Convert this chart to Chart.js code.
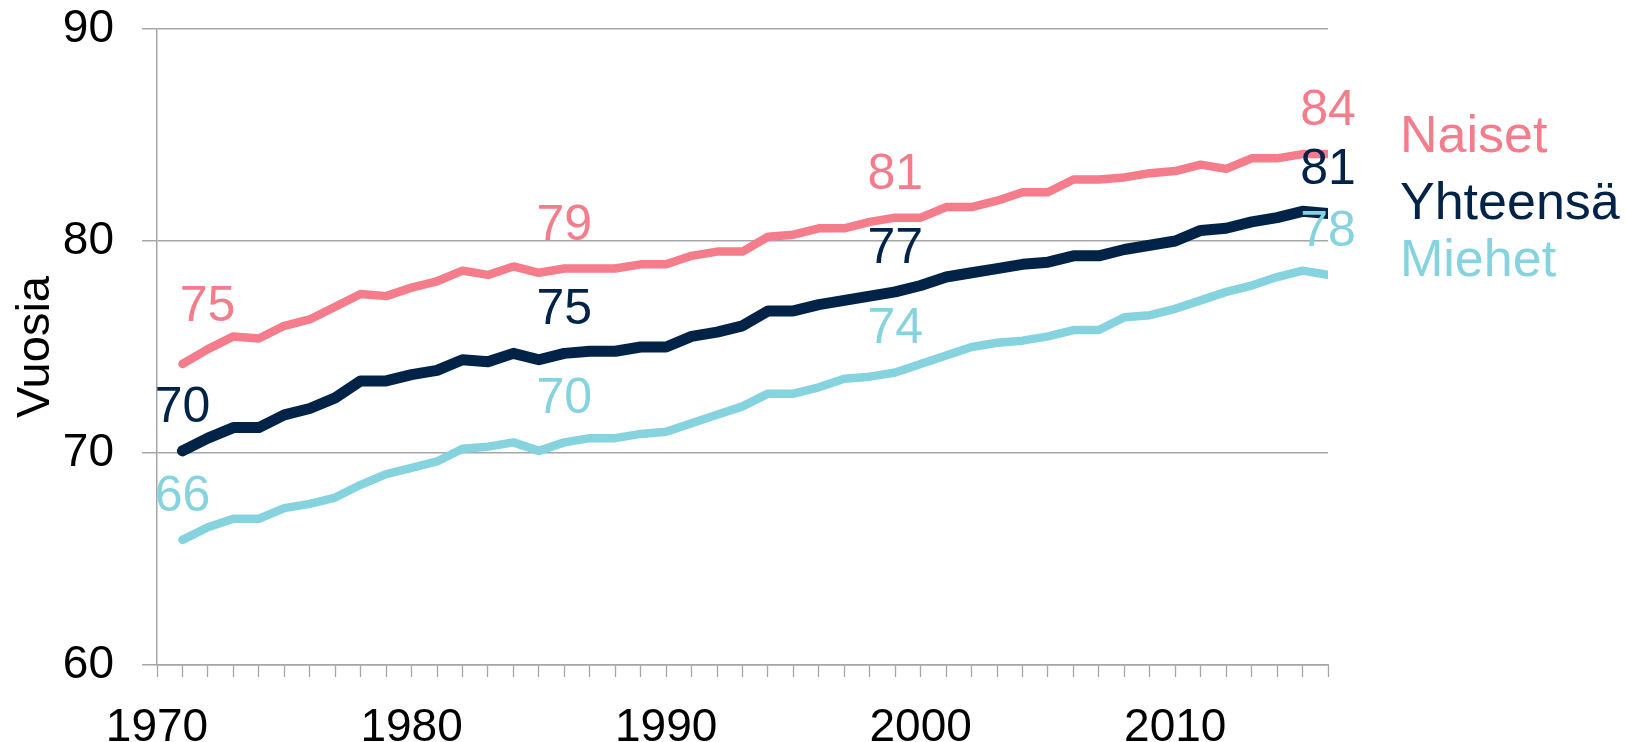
<!DOCTYPE html>
<html>
<head>
<meta charset="utf-8">
<script src="https://cdn.jsdelivr.net/npm/chart.js@4"></script>
<style>
  html, body { margin: 0; padding: 0; background: #fff; }
  #wrap { width: 1626px; height: 742px; }
</style>
</head>
<body>
<div id="wrap"><canvas id="lifeChart" width="1626" height="742"></canvas></div>
<script>
const years = [1971, 1972, 1973, 1974, 1975, 1976, 1977, 1978, 1979, 1980,
  1981, 1982, 1983, 1984, 1985, 1986, 1987, 1988, 1989, 1990,
  1991, 1992, 1993, 1994, 1995, 1996, 1997, 1998, 1999, 2000,
  2001, 2002, 2003, 2004, 2005, 2006, 2007, 2008, 2009, 2010,
  2011, 2012, 2013, 2014, 2015, 2016];

const naiset = [74.2, 74.9, 75.5, 75.4, 76.0, 76.3, 76.9, 77.5, 77.4, 77.8,
  78.1, 78.6, 78.4, 78.8, 78.5, 78.7, 78.7, 78.7, 78.9, 78.9,
  79.3, 79.5, 79.5, 80.2, 80.3, 80.6, 80.6, 80.9, 81.1, 81.1,
  81.6, 81.6, 81.9, 82.3, 82.3, 82.9, 82.9, 83.0, 83.2, 83.3,
  83.6, 83.4, 83.9, 83.9, 84.1, 84.1];

const yhteensa = [70.1, 70.7, 71.2, 71.2, 71.8, 72.1, 72.6, 73.4, 73.4, 73.7,
  73.9, 74.4, 74.3, 74.7, 74.4, 74.7, 74.8, 74.8, 75.0, 75.0,
  75.5, 75.7, 76.0, 76.7, 76.7, 77.0, 77.2, 77.4, 77.6, 77.9,
  78.3, 78.5, 78.7, 78.9, 79.0, 79.3, 79.3, 79.6, 79.8, 80.0,
  80.5, 80.6, 80.9, 81.1, 81.4, 81.3];

const miehet = [65.9, 66.5, 66.9, 66.9, 67.4, 67.6, 67.9, 68.5, 69.0, 69.3,
  69.6, 70.2, 70.3, 70.5, 70.1, 70.5, 70.7, 70.7, 70.9, 71.0,
  71.4, 71.8, 72.2, 72.8, 72.8, 73.1, 73.5, 73.6, 73.8, 74.2,
  74.6, 75.0, 75.2, 75.3, 75.5, 75.8, 75.8, 76.4, 76.5, 76.8,
  77.2, 77.6, 77.9, 78.3, 78.6, 78.4];

// data labels shown on the lines (year, text)
const naisetLabels = [[1971, "75"], [1986, "79"], [1999, "81"], [2016, "84"]];
const yhteensaLabels = [[1971, "70"], [1986, "75"], [1999, "77"], [2016, "81"]];
const miehetLabels = [[1971, "66"], [1986, "70"], [1999, "74"], [2016, "78"]];

const seriesNames = ["Naiset", "Yhteensä", "Miehet"];
const yTicks = [60, 70, 80, 90];

const FONT = "'Liberation Sans', Arial, sans-serif";
const colors = ["#F47C8B", "#002347", "#86D3E0"];
const widths = [8.5, 11, 8.5];
const gridColor = "#A6A6A6";

const toPoints = (vals) => years.map((yr, i) => ({ x: yr, y: vals[i] }));

const makeDataset = (i, vals, labels) => ({
  label: seriesNames[i],
  data: toPoints(vals),
  borderColor: colors[i],
  backgroundColor: colors[i],
  borderWidth: widths[i],
  borderCapStyle: "round",
  borderJoinStyle: "round",
  pointRadius: 0,
  tension: 0,
  fill: false,
  valueLabels: labels,
});

// draws the numbers above the lines
const lineLabelsPlugin = {
  id: "lineLabels",
  afterDatasetsDraw(chart) {
    const ctx = chart.ctx;
    const xs = chart.scales.x;
    const ys = chart.scales.y;
    ctx.save();
    ctx.font = "50px " + FONT;
    ctx.textAlign = "center";
    ctx.textBaseline = "alphabetic";
    chart.data.datasets.forEach((ds, di) => {
      ctx.fillStyle = ds.borderColor;
      ds.valueLabels.forEach(([yr, txt]) => {
        const idx = years.indexOf(yr);
        const px = xs.getPixelForValue(yr);
        const py = ys.getPixelForValue(ds.data[idx].y);
        let dx = 0, dy = -29;
        if (di === 0 && yr === 1971) { dx = 25; dy = -43; }
        ctx.fillText(txt, px + dx, py + dy);
      });
    });
    ctx.restore();
  },
};

// series names at the right side
const sideLegendPlugin = {
  id: "sideLegend",
  afterDraw(chart) {
    const ctx = chart.ctx;
    const baselines = [152, 219, 276];
    ctx.save();
    ctx.font = "52px " + FONT;
    ctx.textAlign = "left";
    ctx.textBaseline = "alphabetic";
    seriesNames.forEach((name, i) => {
      ctx.fillStyle = colors[i];
      ctx.fillText(name, 1400, baselines[i]);
    });
    ctx.restore();
  },
};

const config = {
  type: "line",
  data: {
    datasets: [
      makeDataset(0, naiset, naisetLabels),
      makeDataset(1, yhteensa, yhteensaLabels),
      makeDataset(2, miehet, miehetLabels),
    ],
  },
  options: {
    responsive: false,
    animation: false,
    layout: { padding: { left: 0, right: 298, top: 29, bottom: 0 } },
    plugins: {
      legend: { display: false },
      tooltip: { enabled: false },
    },
    scales: {
      x: {
        type: "linear",
        min: 1970,
        max: 2016,
        afterFit: (scale) => {
          scale.height = 77;
          scale.paddingLeft = 0;
          scale.paddingRight = 0;
        },
        ticks: {
          stepSize: 1,
          autoSkip: false,
          maxRotation: 0,
          padding: 24,
          color: "#000",
          font: { family: FONT, size: 46 },
          callback: (v) => (v % 10 === 0 ? String(v) : ""),
        },
        grid: {
          drawOnChartArea: false,
          drawTicks: true,
          tickLength: 12,
          tickColor: gridColor,
          tickWidth: 1.3,
        },
        border: { color: gridColor, width: 1.5 },
      },
      y: {
        min: 60,
        max: 90,
        afterFit: (scale) => {
          scale.width = 157;
          scale.paddingTop = 0;
          scale.paddingBottom = 0;
        },
        afterBuildTicks: (scale) => { scale.ticks = yTicks.map((v) => ({ value: v })); },
        ticks: {
          padding: 28,
          color: "#000",
          font: { family: FONT, size: 46 },
        },
        grid: {
          color: gridColor,
          lineWidth: 1.5,
          tickLength: 15,
          tickColor: gridColor,
        },
        border: { color: gridColor, width: 1.5 },
        title: {
          display: true,
          text: "Vuosia",
          color: "#000",
          font: { family: FONT, size: 47 },
          padding: { top: 8, bottom: 0 },
        },
      },
    },
  },
  plugins: [lineLabelsPlugin, sideLegendPlugin],
};

const ctx = document.getElementById("lifeChart").getContext("2d");
const lifeChart = new Chart(ctx, config);
</script>
</body>
</html>
